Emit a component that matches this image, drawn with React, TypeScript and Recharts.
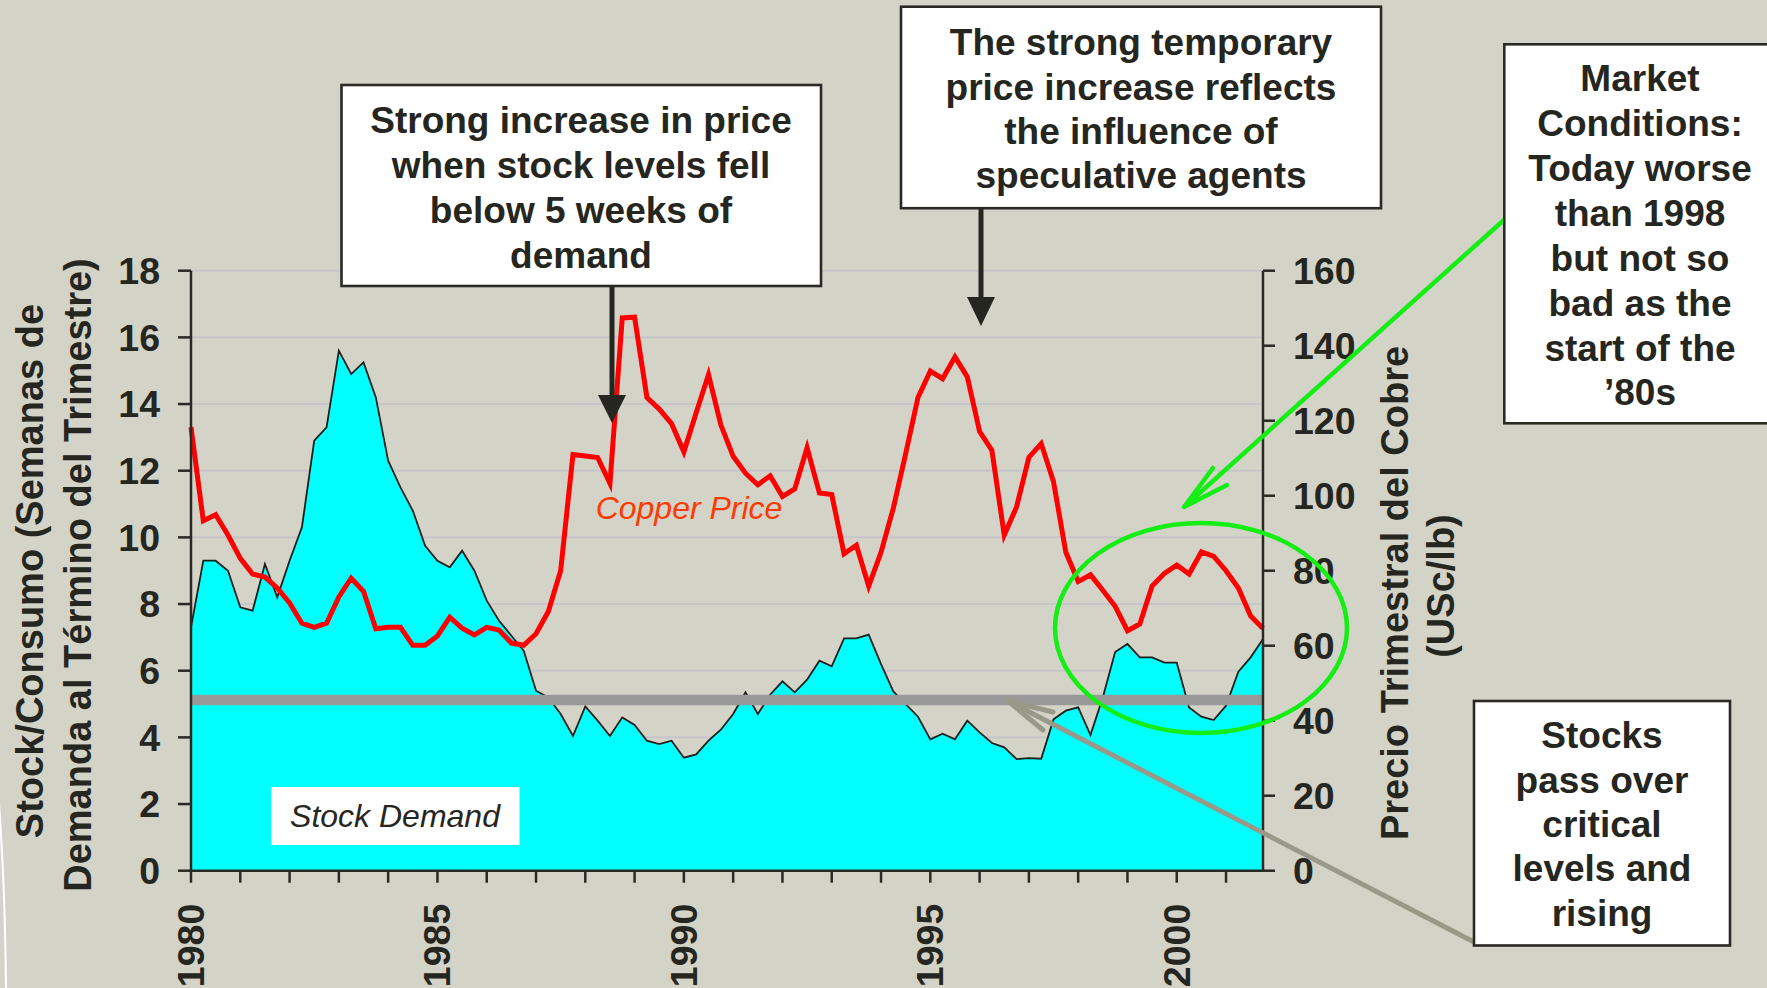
import React from 'react';
import { ComposedChart, Area, Line, XAxis, YAxis, CartesianGrid, ReferenceLine } from 'recharts';

// Quarterly series, 1980 Q1 .. 2001 Q4
const stockWeeks = [
  7.3, 9.3, 9.3, 9.0, 7.9, 7.8, 9.2, 8.2, 9.3, 10.3,
  12.9, 13.3, 15.6, 14.9, 15.25, 14.2, 12.3, 11.5, 10.8, 9.75,
  9.3, 9.1, 9.6, 9.0, 8.1, 7.5, 7.05, 6.6, 5.4, 5.2,
  4.7, 4.04, 4.93, 4.5, 4.04, 4.6, 4.37, 3.9, 3.8, 3.9,
  3.39, 3.49, 3.9, 4.23, 4.7, 5.35, 4.7, 5.28, 5.68, 5.35,
  5.73, 6.3, 6.13, 6.97, 6.97, 7.08, 6.2, 5.38, 5.0, 4.62,
  3.94, 4.11, 3.94, 4.5, 4.15, 3.83, 3.7, 3.35, 3.38, 3.36,
  4.54, 4.8, 4.9, 4.07, 5.2, 6.56, 6.8, 6.4, 6.4, 6.24,
  6.24, 4.9, 4.62, 4.52, 4.95, 5.97, 6.4, 6.95,
];
const copperPrice = [
  118.3, 93.3, 94.9, 89.5, 83.3, 79.1, 78.3, 75.4, 71.4, 66.0,
  64.9, 66.0, 73.0, 78.0, 74.5, 64.5, 64.9, 64.9, 60.1, 60.1,
  62.6, 67.6, 64.7, 62.9, 64.9, 64.2, 60.7, 60.1, 63.2, 69.1,
  80.0, 111.0, 110.6, 110.2, 103.3, 147.4, 147.6, 126.2, 123.1, 119.2,
  111.7, 122.1, 132.3, 118.9, 110.5, 106.0, 102.9, 105.3, 99.8, 101.8,
  112.8, 100.7, 100.3, 84.5, 86.8, 75.9, 84.9, 96.7, 111.2, 126.2,
  133.2, 131.2, 137.0, 131.7, 117.1, 112.1, 89.5, 97.0, 110.2, 113.9,
  103.7, 84.9, 77.1, 78.9, 74.8, 70.5, 64.0, 65.8, 75.9, 79.3,
  81.5, 79.1, 85.0, 83.8, 80.0, 75.4, 67.9, 64.6,
];
const yearTicks = [
  1980, 1981, 1982, 1983, 1984, 1985, 1986, 1987, 1988, 1989, 1990,
  1991, 1992, 1993, 1994, 1995, 1996, 1997, 1998, 1999, 2000, 2001,
];
const labeledYears = [1980, 1985, 1990, 1995, 2000];
const stockTicks = [0, 2, 4, 6, 8, 10, 12, 14, 16, 18];
const priceTicks = [0, 20, 40, 60, 80, 100, 120, 140, 160];
const criticalStockLevel = 5.12;

const data = stockWeeks.map((s, i) => ({ t: 1980 + i / 4, stock: s, price: copperPrice[i] }));

const FONT = '"Liberation Sans", Arial, Helvetica, sans-serif';
const INK = '#262621';
const BG = '#D3D3C8';
const GREEN = '#14EE14';
const GRAYARROW = '#999989';

const XTick = (props: any) => {
  const { x, y, payload } = props;
  if (!labeledYears.includes(payload.value)) return <g />;
  const bx = x + 13;
  return (
    <text
      x={bx}
      y={y}
      transform={`rotate(-90, ${bx}, ${y})`}
      textAnchor="end"
      fontFamily={FONT}
      fontWeight={700}
      fontSize={37.5}
      fill={INK}
    >
      {payload.value}
    </text>
  );
};

type BoxProps = { x: number; y: number; w: number; h: number; cx: number; lines: string[]; ys: number[] };
const NoteBox = ({ x, y, w, h, cx, lines, ys }: BoxProps) => (
  <g>
    <rect x={x} y={y} width={w} height={h} fill="#FFFFFF" stroke="#2A2A24" strokeWidth={2.6} />
    {lines.map((l, i) => (
      <text
        key={i}
        x={cx}
        y={ys[i]}
        textAnchor="middle"
        dominantBaseline="central"
        fontFamily={FONT}
        fontWeight={700}
        fontSize={37}
        fill={INK}
      >
        {l}
      </text>
    ))}
  </g>
);

export default function App() {
  return (
    <div
      style={{
        position: 'absolute',
        left: 0,
        top: 0,
        width: 1767,
        height: 988,
        background: BG,
        overflow: 'hidden',
        fontFamily: FONT,
      }}
    >
      <ComposedChart
        width={1767}
        height={988}
        data={data}
        margin={{ top: 270.7, right: 0, bottom: 0, left: 0 }}
      >
        <CartesianGrid yAxisId="left" vertical={false} stroke="#C7C5CC" strokeWidth={2} />
        <Area
          yAxisId="left"
          xAxisId="x"
          type="linear"
          dataKey="stock"
          fill="#00FFFF"
          fillOpacity={1}
          stroke="#1E1E1A"
          strokeWidth={1.8}
          dot={false}
          activeDot={false}
          isAnimationActive={false}
        />
        <ReferenceLine yAxisId="left" xAxisId="x" y={criticalStockLevel} stroke="#999999" strokeWidth={10.5} />
        <Line
          yAxisId="right"
          xAxisId="x"
          type="linear"
          dataKey="price"
          stroke="#FF0000"
          strokeWidth={5}
          dot={false}
          activeDot={false}
          isAnimationActive={false}
        />
        <XAxis
          xAxisId="x"
          dataKey="t"
          type="number"
          domain={[1980, 2001.75]}
          ticks={yearTicks}
          interval={0}
          height={117.3}
          tickSize={12}
          tickMargin={21}
          tick={<XTick />}
          axisLine={{ stroke: '#2A2A24', strokeWidth: 2.5 }}
          tickLine={{ stroke: '#2A2A24', strokeWidth: 2.5 }}
        />
        <YAxis
          yAxisId="left"
          orientation="left"
          domain={[0, 18]}
          ticks={stockTicks}
          interval={0}
          width={191}
          tickSize={13}
          tickMargin={18}
          tick={{ fontFamily: FONT, fontWeight: 700, fontSize: 37.5, fill: INK }}
          axisLine={{ stroke: '#2A2A24', strokeWidth: 2.5 }}
          tickLine={{ stroke: '#2A2A24', strokeWidth: 2.5 }}
        />
        <YAxis
          yAxisId="right"
          orientation="right"
          domain={[0, 160]}
          ticks={priceTicks}
          interval={0}
          width={504}
          tickSize={12}
          tickMargin={18}
          tick={{ fontFamily: FONT, fontWeight: 700, fontSize: 37.5, fill: INK }}
          axisLine={{ stroke: '#2A2A24', strokeWidth: 2.5 }}
          tickLine={{ stroke: '#2A2A24', strokeWidth: 2.5 }}
        />
      </ComposedChart>

      <svg
        width={1767}
        height={988}
        style={{ position: 'absolute', left: 0, top: 0, pointerEvents: 'none' }}
      >
        <path d="M -2 790 Q 5 880 6 988" stroke="#FFFFFF" strokeWidth={2} fill="none" />

        {/* axis titles */}
        <g fontFamily={FONT} fontWeight={700} fontSize={38} fill={INK} textAnchor="middle">
          <text x={30} y={571} transform="rotate(-90, 30, 571)" dominantBaseline="central">
            Stock/Consumo (Semanas de
          </text>
          <text x={77.5} y={575} transform="rotate(-90, 77.5, 575)" dominantBaseline="central">
            Demanda al Término del Trimestre)
          </text>
          <text x={1395} y={593} transform="rotate(-90, 1395, 593)" dominantBaseline="central">
            Precio Trimestral del Cobre
          </text>
          <text x={1441} y={586} transform="rotate(-90, 1441, 586)" dominantBaseline="central">
            (USc/lb)
          </text>
        </g>

        {/* series labels */}
        <text x={689} y={508} textAnchor="middle" dominantBaseline="central" fontFamily={FONT}
          fontStyle="italic" fontSize={32} fill="#FF3A00">Copper Price</text>
        <rect x={271} y={787} width={248.5} height={58} fill="#FFFFFF" />
        <text x={395} y={816} textAnchor="middle" dominantBaseline="central" fontFamily={FONT}
          fontStyle="italic" fontSize={32} fill={INK}>Stock Demand</text>

        {/* green ellipse and arrow */}
        <ellipse cx={1201} cy={628} rx={146} ry={105} fill="none" stroke={GREEN} strokeWidth={4.5} />
        <line x1={1505} y1={219} x2={1184} y2={507} stroke={GREEN} strokeWidth={4.5} />
        <polyline points="1213,468 1184,507 1227,485" fill="none" stroke={GREEN} strokeWidth={4.5}
          strokeLinecap="round" strokeLinejoin="round" />

        {/* gray arrow */}
        <line x1={1474} y1={942} x2={1008} y2={701} stroke={GRAYARROW} strokeWidth={5} />
        <polyline points="1053,712 1008,701 1043,730" fill="none" stroke={GRAYARROW} strokeWidth={5}
          strokeLinecap="round" strokeLinejoin="round" />

        {/* black arrows */}
        <line x1={612} y1={286} x2={612} y2={398} stroke="#262621" strokeWidth={5} />
        <polygon points="598,395 626,395 612,423" fill="#262621" />
        <line x1={981} y1={208} x2={981} y2={300} stroke="#262621" strokeWidth={5} />
        <polygon points="967,297 995,297 981,326" fill="#262621" />

        <NoteBox x={341.5} y={85} w={479.5} h={201} cx={581}
          lines={['Strong increase in price', 'when stock levels fell', 'below 5 weeks of', 'demand']}
          ys={[120, 165, 210, 255]} />
        <NoteBox x={901} y={6.7} w={480} h={201.5} cx={1141}
          lines={['The strong temporary', 'price increase reflects', 'the influence of', 'speculative agents']}
          ys={[42.7, 87.3, 131.7, 175.7]} />
        <NoteBox x={1504.3} y={44.3} w={300} h={379} cx={1640}
          lines={['Market', 'Conditions:', 'Today worse', 'than 1998', 'but not so', 'bad as the', 'start of the', '\u201980s']}
          ys={[78.3, 123.3, 168.3, 213, 258, 303, 348, 392]} />
        <NoteBox x={1474} y={701} w={256} h={244.5} cx={1602}
          lines={['Stocks', 'pass over', 'critical', 'levels and', 'rising']}
          ys={[735.6, 780.8, 824, 868.8, 913.5]} />
      </svg>
    </div>
  );
}
